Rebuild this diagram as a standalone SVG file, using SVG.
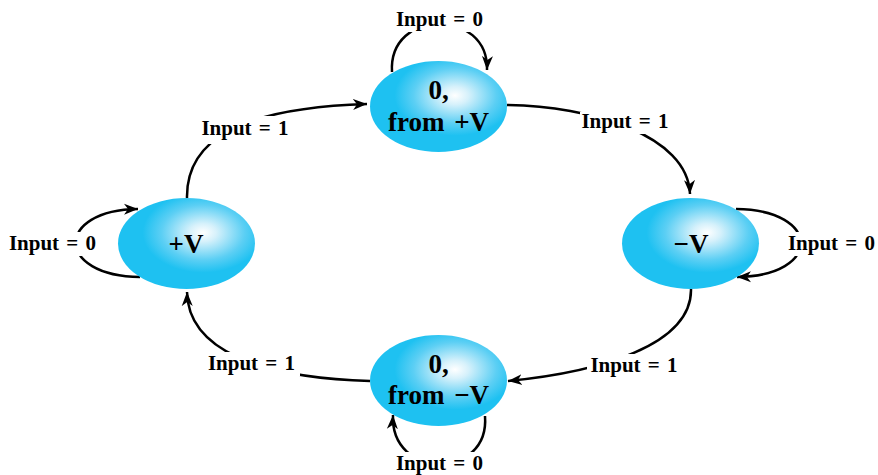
<svg xmlns="http://www.w3.org/2000/svg" width="878" height="475" viewBox="0 0 878 475">
<defs>
<radialGradient id="g" cx="0.62" cy="0.38" r="0.55" fx="0.62" fy="0.38">
<stop offset="0" stop-color="#ffffff"/>
<stop offset="0.18" stop-color="#d6f1fb"/>
<stop offset="0.55" stop-color="#5ccff4"/>
<stop offset="0.8" stop-color="#1ec1f1"/>
<stop offset="1" stop-color="#1ec1f1"/>
</radialGradient>
<marker id="ah" markerUnits="userSpaceOnUse" markerWidth="16" markerHeight="12" refX="14" refY="5.5" orient="auto" viewBox="0 0 16 11">
<path d="M0,0 L14,5.5 L0,11 L4,5.5 z" fill="#000"/>
</marker>
<style>
.node{fill:url(#g);}
.nt{font-family:"Liberation Serif","Times New Roman",serif;font-weight:bold;font-size:27px;text-anchor:middle;word-spacing:3px;fill:#000;}
.lb{font-family:"Liberation Serif","Times New Roman",serif;font-weight:bold;font-size:21px;text-anchor:middle;word-spacing:2px;fill:#000;}
.c{fill:none;stroke:#000;stroke-width:2.5;marker-end:url(#ah);}
.bg{fill:#fff;}
</style>
</defs>
<rect width="878" height="475" fill="#fff"/>
<g id="connectors">
<path class="c" d="M392,72 C388,8 489,8 487,70"/>
<path class="c" d="M140,277 C55,276 55,210 138,209"/>
<path class="c" d="M736,209 C822,210 822,276 737,277"/>
<path class="c" d="M485,416 C490,480 390,480 393,415"/>
<path class="c" d="M187,198 C186,140 240,108 367,104"/>
<path class="c" d="M507,105 C590,106 688,135 690,194"/>
<path class="c" d="M691,289 C692,345 600,372 508,381"/>
<path class="c" d="M370,381 C260,378 188,350 187,292"/>
</g>
<g id="labels">
<rect class="bg" x="393" y="8" width="93" height="24"/>
<text class="lb" x="439.5" y="26">Input = 0</text>
<rect class="bg" x="4" y="232" width="96" height="24"/>
<text class="lb" x="52.5" y="250">Input = 0</text>
<rect class="bg" x="783" y="232" width="95" height="24"/>
<text class="lb" x="831.5" y="250">Input = 0</text>
<rect class="bg" x="393" y="452" width="93" height="23"/>
<text class="lb" x="439.5" y="470">Input = 0</text>
<rect class="bg" x="197" y="116" width="96" height="28"/>
<text class="lb" x="245" y="135">Input = 1</text>
<rect class="bg" x="580" y="112" width="90" height="22"/>
<text class="lb" x="625" y="128">Input = 1</text>
<rect class="bg" x="587" y="354" width="94" height="24"/>
<text class="lb" x="634" y="372">Input = 1</text>
<rect class="bg" x="204" y="352" width="96" height="24"/>
<text class="lb" x="251.5" y="370">Input = 1</text>
</g>
<g id="node-top">
<ellipse class="node" cx="438.5" cy="106.5" rx="68.5" ry="45.5"/>
<text class="nt" x="438.5" y="99">0,</text>
<text class="nt" x="438.5" y="131">from +V</text>
</g>
<g id="node-plusV">
<ellipse class="node" cx="186.5" cy="243.5" rx="68.5" ry="45.5"/>
<text class="nt" x="186" y="253">+V</text>
</g>
<g id="node-minusV">
<ellipse class="node" cx="690.5" cy="243.5" rx="68.5" ry="45.5"/>
<text class="nt" x="691" y="253">−V</text>
</g>
<g id="node-bottom">
<ellipse class="node" cx="438.5" cy="380.5" rx="68.5" ry="45.5"/>
<text class="nt" x="438.5" y="373">0,</text>
<text class="nt" x="438.5" y="404">from −V</text>
</g>
</svg>
